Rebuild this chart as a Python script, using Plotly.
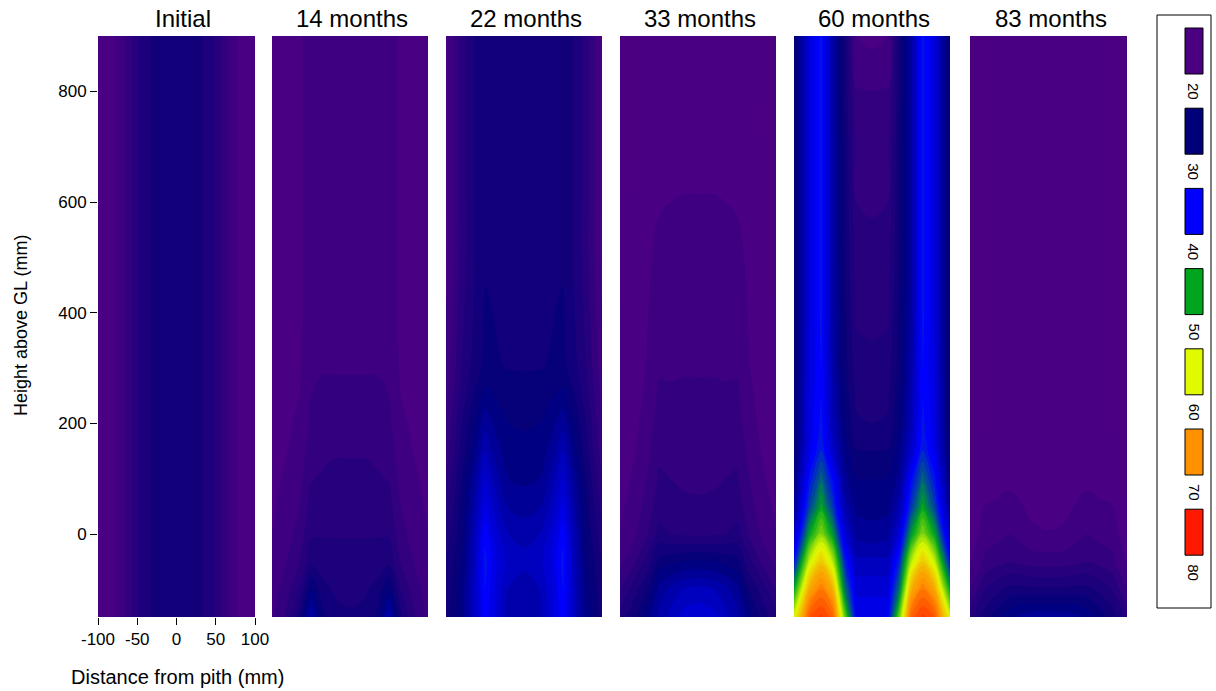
import plotly.graph_objects as go

# ---------------- data ----------------
x_mm = [-100, -80, -65, -50, -35, -20, 0, 20, 35, 50, 65, 80, 100]
height_mm = [-150, -100, -50, 0, 50, 100, 150, 200, 250, 300, 400, 500, 600, 700, 800, 900]
panel_titles = ["Initial", "14 months", "22 months", "33 months", "60 months", "83 months"]

mc_initial = [
    [15, 15.8, 17.6, 20.2, 21.8, 23, 23.2, 23, 21.8, 20.2, 17.6, 15.8, 15],
    [15, 15.8, 17.6, 20.2, 21.8, 23, 23.2, 23, 21.8, 20.2, 17.6, 15.8, 15],
    [15, 15.8, 17.6, 20.2, 21.8, 23, 23.2, 23, 21.8, 20.2, 17.6, 15.8, 15],
    [15, 15.8, 17.6, 20.2, 21.8, 23, 23.2, 23, 21.8, 20.2, 17.6, 15.8, 15],
    [15, 15.8, 17.6, 20.2, 21.8, 23, 23.2, 23, 21.8, 20.2, 17.6, 15.8, 15],
    [15, 15.8, 17.6, 20.2, 21.8, 23, 23.2, 23, 21.8, 20.2, 17.6, 15.8, 15],
    [15, 15.8, 17.6, 20.2, 21.8, 23, 23.2, 23, 21.8, 20.2, 17.6, 15.8, 15],
    [15, 15.8, 17.6, 20.2, 21.8, 23, 23.2, 23, 21.8, 20.2, 17.6, 15.8, 15],
    [15, 15.8, 17.6, 20.2, 21.8, 23, 23.2, 23, 21.8, 20.2, 17.6, 15.8, 15],
    [15, 15.8, 17.6, 20.2, 21.8, 23, 23.2, 23, 21.8, 20.2, 17.6, 15.8, 15],
    [15, 15.8, 17.6, 20.2, 21.8, 23, 23.2, 23, 21.8, 20.2, 17.6, 15.8, 15],
    [15, 15.8, 17.6, 20.2, 21.8, 23, 23.2, 23, 21.8, 20.2, 17.6, 15.8, 15],
    [15, 15.8, 17.6, 20.2, 21.8, 23, 23.2, 23, 21.8, 20.2, 17.6, 15.8, 15],
    [15, 15.8, 17.6, 20.2, 21.8, 23, 23.2, 23, 21.8, 20.2, 17.6, 15.8, 15],
    [15, 15.8, 17.6, 20.2, 21.8, 23, 23.2, 23, 21.8, 20.2, 17.6, 15.8, 15],
    [15, 15.8, 17.6, 20.2, 21.8, 23, 23.2, 23, 21.8, 20.2, 17.6, 15.8, 15],
]

mc_14m = [
    [17.2, 19.5, 22.5, 29, 24, 22.5, 22.2, 22.5, 24, 29, 22.5, 19.5, 17.2],
    [16.7, 18.5, 20.5, 25, 22.5, 21.8, 21.6, 21.8, 22.5, 25, 20.5, 18.5, 16.7],
    [16.3, 17.6, 19.0, 21.5, 21.2, 21.0, 21.0, 21.0, 21.2, 21.5, 19.0, 17.6, 16.3],
    [16.0, 17.0, 18.1, 20.3, 20.4, 20.4, 20.4, 20.4, 20.4, 20.3, 18.1, 17.0, 16.0],
    [15.8, 16.6, 17.5, 19.6, 19.8, 19.8, 19.8, 19.8, 19.8, 19.6, 17.5, 16.6, 15.8],
    [15.6, 16.3, 17.0, 18.9, 19.2, 19.4, 19.4, 19.4, 19.2, 18.9, 17.0, 16.3, 15.6],
    [15.5, 16.0, 16.6, 18.3, 18.6, 18.85, 18.85, 18.85, 18.6, 18.3, 16.6, 16.0, 15.5],
    [15.4, 15.8, 16.3, 17.8, 18.1, 18.1, 18.1, 18.1, 18.1, 17.8, 16.3, 15.8, 15.4],
    [15.3, 15.6, 16.0, 17.5, 17.8, 17.8, 17.8, 17.8, 17.8, 17.5, 16.0, 15.6, 15.3],
    [15.2, 15.5, 15.8, 17.2, 17.4, 17.4, 17.4, 17.4, 17.4, 17.2, 15.8, 15.5, 15.2],
    [15.2, 15.4, 15.6, 17.0, 17.2, 17.2, 17.2, 17.2, 17.2, 17.0, 15.6, 15.4, 15.2],
    [15.2, 15.4, 15.6, 17.0, 17.2, 17.2, 17.2, 17.2, 17.2, 17.0, 15.6, 15.4, 15.2],
    [15.2, 15.4, 15.6, 17.0, 17.2, 17.2, 17.2, 17.2, 17.2, 17.0, 15.6, 15.4, 15.2],
    [15.2, 15.4, 15.6, 17.0, 17.2, 17.2, 17.2, 17.2, 17.2, 17.0, 15.6, 15.4, 15.2],
    [15.2, 15.4, 15.6, 17.0, 17.2, 17.2, 17.2, 17.2, 17.2, 17.0, 15.6, 15.4, 15.2],
    [15.2, 15.4, 15.6, 17.0, 17.2, 17.2, 17.2, 17.2, 17.2, 17.0, 15.6, 15.4, 15.2],
]

mc_22m = [
    [23, 26, 30, 35, 32, 29, 28, 29, 32, 35, 30, 26, 23],
    [22.5, 25.5, 30, 35.5, 32, 29.5, 28.5, 29.5, 32, 35.5, 30, 25.5, 22.5],
    [22, 25, 29.5, 36, 32.5, 30.5, 30, 30.5, 32.5, 36, 29.5, 25, 22],
    [21, 24.5, 29, 35, 31.5, 29.5, 29, 29.5, 31.5, 35, 29, 24.5, 21],
    [20, 24, 28, 33, 30, 27.8, 27.3, 27.8, 30, 33, 28, 24, 20],
    [19, 23.5, 27, 31.5, 28.5, 26.5, 26.2, 26.5, 28.5, 31.5, 27, 23.5, 19],
    [18, 22.5, 25.5, 29.5, 27, 25.8, 25.5, 25.8, 27, 29.5, 25.5, 22.5, 18],
    [17.5, 22, 24.5, 27.5, 26, 25, 24.8, 25, 26, 27.5, 24.5, 22, 17.5],
    [17, 21, 23.5, 25.5, 24.8, 24.3, 24.2, 24.3, 24.8, 25.5, 23.5, 21, 17],
    [16.5, 20.5, 22.5, 24.0, 23.6, 23.45, 23.4, 23.45, 23.6, 24.0, 22.5, 20.5, 16.5],
    [16, 20, 22, 23.7, 23.4, 23.3, 23.3, 23.3, 23.4, 23.7, 22, 20, 16],
    [15.5, 19.5, 21.8, 23.3, 23.3, 23.3, 23.3, 23.3, 23.3, 23.3, 21.8, 19.5, 15.5],
    [15.5, 19.5, 21.8, 23.3, 23.3, 23.3, 23.3, 23.3, 23.3, 23.3, 21.8, 19.5, 15.5],
    [15.5, 19.5, 21.8, 23.3, 23.3, 23.3, 23.3, 23.3, 23.3, 23.3, 21.8, 19.5, 15.5],
    [15.5, 19.5, 21.8, 23.3, 23.3, 23.3, 23.3, 23.3, 23.3, 23.3, 21.8, 19.5, 15.5],
    [15.5, 19.5, 21.8, 23.3, 23.3, 23.3, 23.3, 23.3, 23.3, 23.3, 21.8, 19.5, 15.5],
]

mc_33m = [
    [21, 23.5, 26, 28.5, 30, 31.5, 32, 31.5, 30, 28.5, 26, 23.5, 21],
    [19, 21.5, 23.5, 27, 28.5, 29.5, 30, 29.5, 28.5, 27, 23.5, 21.5, 19],
    [17, 19, 21, 24, 24.5, 25, 25.2, 25, 24.5, 24, 21, 19, 17],
    [16, 17.5, 19, 21, 20.5, 20.3, 20.2, 20.3, 20.5, 21, 19, 17.5, 16],
    [15.7, 16.7, 18.2, 19.8, 19.5, 19.3, 19.2, 19.3, 19.5, 19.8, 18.2, 16.7, 15.7],
    [15.4, 16.3, 17.6, 19.2, 19.0, 18.8, 18.7, 18.8, 19.0, 19.2, 17.6, 16.3, 15.4],
    [15.2, 16, 17.1, 18.7, 18.5, 18.4, 18.3, 18.4, 18.5, 18.7, 17.1, 16, 15.2],
    [15, 15.7, 16.7, 18.2, 18, 18, 18, 18, 18, 18.2, 16.7, 15.7, 15],
    [14.8, 15.5, 16.4, 17.8, 17.7, 17.7, 17.7, 17.7, 17.7, 17.8, 16.4, 15.5, 14.8],
    [14.7, 15.3, 16.1, 17.3, 17.3, 17.4, 17.4, 17.4, 17.3, 17.3, 16.1, 15.3, 14.7],
    [14.5, 15.1, 15.9, 16.9, 17, 17.1, 17.1, 17.1, 17, 16.9, 15.9, 15.1, 14.5],
    [14.3, 14.9, 15.6, 16.6, 16.8, 16.9, 16.9, 16.9, 16.8, 16.6, 15.6, 14.9, 14.3],
    [14.2, 14.7, 15.3, 15.8, 16.0, 16.05, 16.05, 16.05, 16.0, 15.8, 15.3, 14.7, 14.2],
    [14, 14.5, 15, 15.4, 15.6, 15.7, 15.7, 15.7, 15.6, 15.4, 15, 14.5, 14],
    [14, 14.5, 15, 15.4, 15.6, 15.7, 15.7, 15.7, 15.6, 15.4, 15, 14.5, 14],
    [14, 14.5, 15, 15.3, 15.5, 15.6, 15.6, 15.6, 15.5, 15.3, 15, 14.5, 14],
]

mc_60m = [
    [55, 70, 72, 69, 50, 34, 34, 34, 50, 69, 72, 70, 55],
    [45, 63, 67, 62, 42, 32, 32, 32, 42, 62, 67, 63, 45],
    [36, 54, 60, 53, 37, 30, 30, 30, 37, 53, 60, 54, 36],
    [30, 45, 51, 44, 32, 27.5, 27, 27.5, 32, 44, 51, 45, 30],
    [27, 39, 45, 38, 29, 26, 26, 26, 29, 38, 45, 39, 27],
    [25.5, 36, 41, 35, 27, 25, 25, 25, 27, 35, 41, 36, 25.5],
    [24.5, 33.5, 37, 31, 26, 23.6, 23.5, 23.6, 26, 31, 37, 33.5, 24.5],
    [24, 33, 36, 29.5, 25, 22.2, 22, 22.2, 25, 29.5, 36, 33, 24],
    [24, 33, 35.5, 29, 24.5, 21.7, 21.5, 21.7, 24.5, 29, 35.5, 33, 24],
    [24, 32.5, 35.5, 28.5, 24, 21.2, 21, 21.2, 24, 28.5, 35.5, 32.5, 24],
    [24, 32.5, 36, 28, 24, 20.2, 20, 20.2, 24, 28, 36, 32.5, 24],
    [24, 32.5, 36, 28, 23.5, 19.7, 19.5, 19.7, 23.5, 28, 36, 32.5, 24],
    [24, 32.5, 36, 28, 23.5, 19, 18.8, 19, 23.5, 28, 36, 32.5, 24],
    [24, 32.5, 36, 28, 23.5, 18.5, 18.3, 18.5, 23.5, 28, 36, 32.5, 24],
    [24, 32.5, 36, 28, 23, 17.7, 17.5, 17.7, 23, 28, 36, 32.5, 24],
    [24, 32.5, 36, 28, 23, 15.8, 15.5, 15.8, 23, 28, 36, 32.5, 24],
]

mc_83m = [
    [20, 23, 24.5, 26, 27, 27.5, 27.5, 27.5, 27, 26, 24.5, 23, 20],
    [17.5, 20.5, 21.5, 22.5, 22.5, 22.3, 22.3, 22.3, 22.5, 22.5, 21.5, 20.5, 17.5],
    [15.8, 18, 18.5, 19, 18.6, 18.3, 18.2, 18.3, 18.6, 19, 18.5, 18, 15.8],
    [15, 16.8, 17, 17.5, 17, 16.3, 16.1, 16.3, 17, 17.5, 17, 16.8, 15],
    [14.5, 16.1, 16.2, 16.6, 16.1, 15.6, 15.4, 15.6, 16.1, 16.6, 16.2, 16.1, 14.5],
    [14.3, 15.3, 15.5, 15.6, 15.3, 15.1, 15.0, 15.1, 15.3, 15.6, 15.5, 15.3, 14.3],
    [14.2, 14.8, 15.1, 15.3, 15.0, 14.9, 14.8, 14.9, 15.0, 15.3, 15.1, 14.8, 14.2],
    [14, 14.5, 14.8, 15, 14.8, 14.7, 14.7, 14.7, 14.8, 15, 14.8, 14.5, 14],
    [14, 14.5, 14.8, 15, 14.8, 14.7, 14.7, 14.7, 14.8, 15, 14.8, 14.5, 14],
    [14, 14.5, 14.8, 15, 14.8, 14.7, 14.7, 14.7, 14.8, 15, 14.8, 14.5, 14],
    [14, 14.5, 14.8, 15, 14.8, 14.7, 14.7, 14.7, 14.8, 15, 14.8, 14.5, 14],
    [14, 14.5, 14.8, 15, 14.8, 14.7, 14.7, 14.7, 14.8, 15, 14.8, 14.5, 14],
    [14, 14.5, 14.8, 15, 14.8, 14.7, 14.7, 14.7, 14.8, 15, 14.8, 14.5, 14],
    [14, 14.5, 14.8, 15, 14.8, 14.7, 14.7, 14.7, 14.8, 15, 14.8, 14.5, 14],
    [14, 14.5, 14.8, 15, 14.8, 14.7, 14.7, 14.7, 14.8, 15, 14.8, 14.5, 14],
    [14, 14.5, 14.8, 15, 14.8, 14.7, 14.7, 14.7, 14.8, 15, 14.8, 14.5, 14],
]

panels = [mc_initial, mc_14m, mc_22m, mc_33m, mc_60m, mc_83m]

x_ticks = [-100, -50, 0, 50, 100]
x_tick_text = ["-100", "-50", "0", "50", "100"]
y_ticks = [0, 200, 400, 600, 800]
legend_labels = ["20", "30", "40", "50", "60", "70", "80"]
legend_colors = ["rgb(75,0,130)", "rgb(0,0,120)", "rgb(0,0,255)", "rgb(0,165,30)",
                 "rgb(225,250,0)", "rgb(255,145,0)", "rgb(255,25,0)"]

# ---------------- figure ----------------
W, H = 1216, 691
FONT = "Liberation Sans, Arial, sans-serif"


def px(x):
    return x / W


def py(y):
    return 1 - y / H


colorscale = [[i / 6, c] for i, c in enumerate(legend_colors)]

lefts = [98, 272, 446, 620, 794, 970]
rights = [255, 428, 602, 776, 950, 1127]
top_px, bot_px = 36, 617

fig = go.Figure()
layout = dict(
    width=W, height=H, margin=dict(l=0, r=0, t=0, b=0, autoexpand=False),
    paper_bgcolor="white", plot_bgcolor="white",
    font=dict(family=FONT, color="black"), showlegend=False,
)
annotations = []
shapes = []

for i, z in enumerate(panels):
    sfx = "" if i == 0 else str(i + 1)
    fig.add_trace(go.Contour(
        x=x_mm, y=height_mm, z=z,
        xaxis="x" + sfx, yaxis="y" + sfx,
        colorscale=colorscale, zmin=15, zmax=75,
        autocontour=False,
        contours=dict(start=10, end=80, size=1.5, coloring="fill", showlines=False),
        line=dict(width=0), showscale=False, hoverinfo="skip",
    ))
    first = i == 0
    layout["xaxis" + sfx] = dict(
        domain=[px(lefts[i]), px(rights[i])], range=[-100, 100], anchor="y" + sfx,
        automargin=False, showgrid=False, zeroline=False, showline=False,
        ticks="outside" if first else "", ticklen=7, tickwidth=1, tickcolor="black",
        tickvals=x_ticks, ticktext=x_tick_text, showticklabels=first,
        tickfont=dict(size=17, family=FONT, color="black"),
    )
    layout["yaxis" + sfx] = dict(
        domain=[py(bot_px), py(top_px)], range=[-150, 900], anchor="x" + sfx,
        automargin=False, showgrid=False, zeroline=False, showline=False,
        ticks="outside" if first else "", ticklen=7, tickwidth=1, tickcolor="black",
        tickvals=y_ticks, showticklabels=first,
        tickfont=dict(size=17, family=FONT, color="black"),
    )
    annotations.append(dict(
        text=panel_titles[i], xref="paper", yref="paper",
        x=px((lefts[i] + rights[i]) / 2 + (7 if first else 2)), y=py(18),
        xanchor="center", yanchor="middle", showarrow=False,
        font=dict(size=24, family=FONT, color="black"),
    ))

# axis titles
annotations.append(dict(text="Height above GL (mm)", xref="paper", yref="paper",
                        x=px(21), y=py(326), textangle=-90, showarrow=False,
                        xanchor="center", yanchor="middle",
                        font=dict(size=18, family=FONT, color="black")))
annotations.append(dict(text="Distance from pith (mm)", xref="paper", yref="paper",
                        x=px(177), y=py(677), showarrow=False,
                        xanchor="center", yanchor="middle",
                        font=dict(size=20, family=FONT, color="black")))

# colour key
shapes.append(dict(type="rect", xref="paper", yref="paper",
                   x0=px(1157), x1=px(1211), y0=py(608), y1=py(15),
                   line=dict(color="black", width=1), fillcolor="rgba(0,0,0,0)"))
for k, (lab, col) in enumerate(zip(legend_labels, legend_colors)):
    top = 28 + k * 80.2
    shapes.append(dict(type="rect", xref="paper", yref="paper",
                       x0=px(1185), x1=px(1203), y0=py(top + 46), y1=py(top),
                       line=dict(color="black", width=1), fillcolor=col))
    annotations.append(dict(text=lab, xref="paper", yref="paper",
                            x=px(1194), y=py(top + 63), textangle=90, showarrow=False,
                            xanchor="center", yanchor="middle",
                            font=dict(size=15, family=FONT, color="black")))

layout["annotations"] = annotations
layout["shapes"] = shapes
fig.update_layout(**layout)
fig.write_html("out.html")
